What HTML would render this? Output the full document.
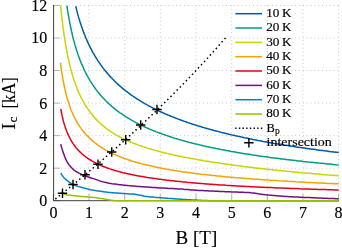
<!DOCTYPE html>
<html><head><meta charset="utf-8"><title>Ic vs B</title>
<style>
html,body{margin:0;padding:0;background:#fff;}
svg{display:block;}
text{font-family:"Liberation Serif",serif;fill:#000;stroke:#000;stroke-width:0.15px;}
.tk{font-size:16px;}
.lg{font-size:12.5px;}
.lb{font-size:19px;}
</style></head><body>
<svg width="342" height="249" viewBox="0 0 342 249">
<rect width="342" height="249" fill="#fff"/>
<g stroke="#9c9c9c" stroke-width="0.7" stroke-dasharray="0.75 3.09" fill="none"><line x1="89.0" y1="5.5" x2="89.0" y2="200.7"/><line x1="124.7" y1="5.5" x2="124.7" y2="200.7"/><line x1="160.3" y1="5.5" x2="160.3" y2="200.7"/><line x1="196.0" y1="5.5" x2="196.0" y2="200.7"/><line x1="231.7" y1="5.5" x2="231.7" y2="200.7"/><line x1="267.3" y1="5.5" x2="267.3" y2="200.7"/><line x1="302.9" y1="5.5" x2="302.9" y2="200.7"/><line x1="338.6" y1="5.5" x2="338.6" y2="200.7"/><line x1="53.4" y1="168.2" x2="338.6" y2="168.2"/><line x1="53.4" y1="135.6" x2="338.6" y2="135.6"/><line x1="53.4" y1="103.1" x2="338.6" y2="103.1"/><line x1="53.4" y1="70.5" x2="338.6" y2="70.5"/><line x1="53.4" y1="38.0" x2="338.6" y2="38.0"/><line x1="53.4" y1="5.5" x2="338.6" y2="5.5"/></g>
<g stroke="#808080" stroke-width="0.55" fill="none"><line x1="53.4" y1="200.7" x2="53.4" y2="193.9"/><line x1="89.0" y1="200.7" x2="89.0" y2="193.9"/><line x1="124.7" y1="200.7" x2="124.7" y2="193.9"/><line x1="160.3" y1="200.7" x2="160.3" y2="193.9"/><line x1="196.0" y1="200.7" x2="196.0" y2="193.9"/><line x1="231.7" y1="200.7" x2="231.7" y2="193.9"/><line x1="267.3" y1="200.7" x2="267.3" y2="193.9"/><line x1="302.9" y1="200.7" x2="302.9" y2="193.9"/><line x1="338.6" y1="200.7" x2="338.6" y2="193.9"/><line x1="53.4" y1="200.7" x2="60.2" y2="200.7"/><line x1="53.4" y1="168.2" x2="60.2" y2="168.2"/><line x1="53.4" y1="135.6" x2="60.2" y2="135.6"/><line x1="53.4" y1="103.1" x2="60.2" y2="103.1"/><line x1="53.4" y1="70.5" x2="60.2" y2="70.5"/><line x1="53.4" y1="38.0" x2="60.2" y2="38.0"/><line x1="53.4" y1="5.5" x2="60.2" y2="5.5"/></g>
<path d="M53.6,5.5 L53.6,200.7 L338.6,200.7" stroke="#000" stroke-width="0.75" fill="none" stroke-linecap="square"/>
<path d="M75.7,6.2 L75.9,7.0 L76.1,7.8 L76.3,8.6 L76.5,9.3 L76.7,10.1 L76.9,10.9 L77.1,11.6 L77.3,12.4 L77.5,13.1 L77.7,13.9 L77.9,14.6 L78.1,15.4 L78.3,16.1 L78.5,16.9 L78.7,17.6 L78.9,18.3 L79.2,19.1 L79.4,19.8 L79.6,20.5 L79.8,21.2 L80.1,22.0 L80.3,22.7 L80.5,23.4 L80.7,24.1 L81.0,24.8 L81.2,25.5 L81.5,26.2 L81.7,26.9 L81.9,27.6 L82.2,28.3 L82.4,29.0 L82.7,29.7 L82.9,30.4 L83.2,31.1 L83.4,31.7 L83.7,32.4 L83.9,33.1 L84.2,33.8 L84.5,34.4 L84.7,35.1 L85.0,35.8 L85.3,36.4 L85.5,37.1 L85.8,37.8 L86.1,38.4 L86.4,39.1 L86.7,39.7 L86.9,40.4 L87.2,41.0 L87.5,41.7 L87.8,42.3 L88.1,42.9 L88.4,43.6 L88.7,44.2 L89.0,44.9 L89.3,45.5 L89.6,46.1 L89.9,46.7 L90.2,47.4 L90.6,48.0 L90.9,48.6 L91.2,49.2 L91.5,49.8 L91.8,50.5 L92.2,51.1 L92.5,51.7 L92.8,52.3 L93.2,52.9 L93.5,53.5 L93.9,54.1 L94.2,54.7 L94.6,55.3 L94.9,55.9 L95.3,56.5 L95.6,57.1 L96.0,57.7 L96.3,58.3 L96.7,58.8 L97.1,59.4 L97.5,60.0 L97.8,60.6 L98.2,61.2 L98.6,61.7 L99.0,62.3 L99.4,62.9 L99.8,63.4 L100.2,64.0 L100.6,64.6 L101.0,65.1 L101.4,65.7 L101.8,66.3 L102.2,66.8 L102.6,67.4 L103.0,67.9 L103.5,68.5 L103.9,69.1 L104.3,69.6 L104.8,70.2 L105.2,70.7 L105.6,71.2 L106.1,71.8 L106.5,72.3 L107.0,72.9 L107.5,73.4 L107.9,73.9 L108.4,74.5 L108.9,75.0 L109.3,75.5 L109.8,76.1 L110.3,76.6 L110.8,77.1 L111.3,77.7 L111.8,78.2 L112.3,78.7 L112.8,79.2 L113.3,79.7 L113.8,80.3 L114.3,80.8 L114.8,81.3 L115.4,81.8 L115.9,82.3 L116.4,82.8 L117.0,83.3 L117.5,83.8 L118.1,84.3 L118.6,84.8 L119.2,85.3 L119.7,85.8 L120.3,86.3 L120.9,86.8 L121.4,87.3 L122.0,87.8 L122.6,88.3 L123.2,88.8 L123.8,89.3 L124.4,89.8 L125.0,90.3 L125.6,90.8 L126.2,91.2 L126.9,91.7 L127.5,92.2 L128.1,92.7 L128.8,93.2 L129.4,93.6 L130.1,94.1 L130.7,94.6 L131.4,95.1 L132.1,95.5 L132.7,96.0 L133.4,96.5 L134.1,96.9 L134.8,97.4 L135.5,97.9 L136.2,98.3 L136.9,98.8 L137.6,99.3 L138.3,99.7 L139.1,100.2 L139.8,100.6 L140.5,101.1 L141.3,101.5 L142.0,102.0 L142.8,102.4 L143.6,102.9 L144.3,103.3 L145.1,103.8 L145.9,104.2 L146.7,104.7 L147.5,105.1 L148.3,105.6 L149.1,106.0 L149.9,106.4 L150.8,106.9 L151.6,107.3 L152.4,107.7 L153.3,108.2 L154.1,108.6 L155.0,109.0 L155.9,109.5 L156.7,109.9 L157.6,110.3 L158.5,110.8 L159.4,111.2 L160.3,111.6 L161.2,112.0 L162.2,112.5 L163.1,112.9 L164.0,113.3 L165.0,113.7 L165.9,114.1 L166.9,114.5 L167.9,115.0 L168.9,115.4 L169.9,115.8 L170.8,116.2 L171.9,116.6 L172.9,117.0 L173.9,117.4 L174.9,117.8 L176.0,118.2 L177.0,118.6 L178.1,119.0 L179.1,119.4 L180.2,119.8 L181.3,120.2 L182.4,120.6 L183.5,121.0 L184.6,121.4 L185.8,121.8 L186.9,122.2 L188.0,122.6 L189.2,123.0 L190.3,123.4 L191.5,123.8 L192.7,124.2 L193.9,124.5 L195.1,124.9 L196.3,125.3 L197.5,125.7 L198.8,126.1 L200.0,126.4 L201.3,126.8 L202.5,127.2 L203.8,127.6 L205.1,128.0 L206.4,128.3 L207.7,128.7 L209.0,129.1 L210.4,129.4 L211.7,129.8 L213.1,130.2 L214.4,130.6 L215.8,130.9 L217.2,131.3 L218.6,131.6 L220.0,132.0 L221.5,132.4 L222.9,132.7 L224.4,133.1 L225.8,133.4 L227.3,133.8 L228.8,134.2 L230.3,134.5 L231.8,134.9 L233.3,135.2 L234.9,135.6 L236.4,135.9 L238.0,136.3 L239.6,136.6 L241.2,137.0 L242.8,137.3 L244.4,137.7 L246.1,138.0 L247.7,138.3 L249.4,138.7 L251.1,139.0 L252.8,139.4 L254.5,139.7 L256.2,140.0 L257.9,140.4 L259.7,140.7 L261.4,141.0 L263.2,141.4 L265.0,141.7 L266.8,142.0 L268.7,142.4 L270.5,142.7 L272.4,143.0 L274.2,143.4 L276.1,143.7 L278.1,144.0 L280.0,144.3 L281.9,144.6 L283.9,145.0 L285.9,145.3 L287.8,145.6 L289.9,145.9 L291.9,146.2 L293.9,146.6 L296.0,146.9 L298.1,147.2 L300.2,147.5 L302.3,147.8 L304.4,148.1 L306.6,148.4 L308.7,148.7 L310.9,149.0 L313.1,149.3 L315.4,149.6 L317.6,149.9 L319.9,150.2 L322.2,150.5 L324.5,150.8 L326.8,151.1 L329.1,151.4 L331.5,151.7 L333.9,152.0 L336.3,152.3 L338.7,152.6" stroke="#005AA9" stroke-width="1.5" fill="none" stroke-linejoin="round"/>
<path d="M66.9,5.7 L67.1,6.6 L67.2,7.6 L67.4,8.5 L67.5,9.5 L67.6,10.4 L67.8,11.3 L67.9,12.2 L68.1,13.2 L68.2,14.1 L68.4,15.0 L68.5,15.9 L68.7,16.8 L68.9,17.7 L69.0,18.6 L69.2,19.5 L69.3,20.3 L69.5,21.2 L69.7,22.1 L69.8,23.0 L70.0,23.8 L70.2,24.7 L70.3,25.6 L70.5,26.4 L70.7,27.3 L70.9,28.1 L71.0,29.0 L71.2,29.8 L71.4,30.6 L71.6,31.5 L71.8,32.3 L72.0,33.1 L72.2,33.9 L72.3,34.8 L72.5,35.6 L72.7,36.4 L72.9,37.2 L73.1,38.0 L73.3,38.8 L73.5,39.6 L73.7,40.4 L74.0,41.2 L74.2,41.9 L74.4,42.7 L74.6,43.5 L74.8,44.3 L75.0,45.0 L75.3,45.8 L75.5,46.6 L75.7,47.3 L75.9,48.1 L76.2,48.8 L76.4,49.6 L76.6,50.3 L76.9,51.1 L77.1,51.8 L77.4,52.6 L77.6,53.3 L77.9,54.0 L78.1,54.8 L78.4,55.5 L78.6,56.2 L78.9,56.9 L79.1,57.6 L79.4,58.4 L79.7,59.1 L79.9,59.8 L80.2,60.5 L80.5,61.2 L80.8,61.9 L81.0,62.6 L81.3,63.3 L81.6,63.9 L81.9,64.6 L82.2,65.3 L82.5,66.0 L82.8,66.7 L83.1,67.3 L83.4,68.0 L83.7,68.7 L84.0,69.4 L84.3,70.0 L84.6,70.7 L85.0,71.3 L85.3,72.0 L85.6,72.6 L86.0,73.3 L86.3,73.9 L86.6,74.6 L87.0,75.2 L87.3,75.9 L87.7,76.5 L88.0,77.1 L88.4,77.8 L88.7,78.4 L89.1,79.0 L89.5,79.6 L89.8,80.3 L90.2,80.9 L90.6,81.5 L91.0,82.1 L91.3,82.7 L91.7,83.3 L92.1,83.9 L92.5,84.5 L92.9,85.1 L93.3,85.7 L93.7,86.3 L94.2,86.9 L94.6,87.5 L95.0,88.1 L95.4,88.7 L95.9,89.3 L96.3,89.9 L96.7,90.4 L97.2,91.0 L97.6,91.6 L98.1,92.2 L98.6,92.7 L99.0,93.3 L99.5,93.9 L100.0,94.4 L100.4,95.0 L100.9,95.5 L101.4,96.1 L101.9,96.6 L102.4,97.2 L102.9,97.7 L103.4,98.3 L103.9,98.8 L104.4,99.4 L105.0,99.9 L105.5,100.5 L106.0,101.0 L106.6,101.5 L107.1,102.1 L107.7,102.6 L108.2,103.1 L108.8,103.6 L109.4,104.2 L109.9,104.7 L110.5,105.2 L111.1,105.7 L111.7,106.2 L112.3,106.8 L112.9,107.3 L113.5,107.8 L114.1,108.3 L114.8,108.8 L115.4,109.3 L116.0,109.8 L116.7,110.3 L117.3,110.8 L118.0,111.3 L118.7,111.8 L119.3,112.3 L120.0,112.8 L120.7,113.2 L121.4,113.7 L122.1,114.2 L122.8,114.7 L123.5,115.2 L124.2,115.7 L125.0,116.1 L125.7,116.6 L126.4,117.1 L127.2,117.5 L128.0,118.0 L128.7,118.5 L129.5,118.9 L130.3,119.4 L131.1,119.9 L131.9,120.3 L132.7,120.8 L133.5,121.2 L134.3,121.7 L135.1,122.1 L136.0,122.6 L136.8,123.0 L137.7,123.5 L138.6,123.9 L139.4,124.4 L140.3,124.8 L141.2,125.2 L142.1,125.7 L143.0,126.1 L144.0,126.5 L144.9,127.0 L145.8,127.4 L146.8,127.8 L147.7,128.3 L148.7,128.7 L149.7,129.1 L150.7,129.5 L151.7,129.9 L152.7,130.4 L153.7,130.8 L154.8,131.2 L155.8,131.6 L156.9,132.0 L157.9,132.4 L159.0,132.8 L160.1,133.2 L161.2,133.6 L162.3,134.0 L163.4,134.4 L164.6,134.8 L165.7,135.2 L166.9,135.6 L168.0,136.0 L169.2,136.4 L170.4,136.8 L171.6,137.2 L172.8,137.6 L174.0,138.0 L175.3,138.4 L176.5,138.7 L177.8,139.1 L179.1,139.5 L180.4,139.9 L181.7,140.3 L183.0,140.6 L184.3,141.0 L185.7,141.4 L187.1,141.7 L188.4,142.1 L189.8,142.5 L191.2,142.8 L192.6,143.2 L194.1,143.6 L195.5,143.9 L197.0,144.3 L198.5,144.6 L200.0,145.0 L201.5,145.3 L203.0,145.7 L204.5,146.1 L206.1,146.4 L207.7,146.7 L209.3,147.1 L210.9,147.4 L212.5,147.8 L214.1,148.1 L215.8,148.5 L217.5,148.8 L219.1,149.1 L220.8,149.5 L222.6,149.8 L224.3,150.1 L226.1,150.5 L227.9,150.8 L229.6,151.1 L231.5,151.5 L233.3,151.8 L235.2,152.1 L237.0,152.4 L238.9,152.7 L240.8,153.1 L242.8,153.4 L244.7,153.7 L246.7,154.0 L248.7,154.3 L250.7,154.6 L252.7,155.0 L254.8,155.3 L256.8,155.6 L258.9,155.9 L261.0,156.2 L263.2,156.5 L265.3,156.8 L267.5,157.1 L269.7,157.4 L272.0,157.7 L274.2,158.0 L276.5,158.3 L278.8,158.6 L281.1,158.9 L283.5,159.1 L285.8,159.4 L288.2,159.7 L290.6,160.0 L293.1,160.3 L295.6,160.6 L298.0,160.9 L300.6,161.1 L303.1,161.4 L305.7,161.7 L308.3,162.0 L310.9,162.2 L313.6,162.5 L316.2,162.8 L318.9,163.1 L321.7,163.3 L324.4,163.6 L327.2,163.9 L330.1,164.1 L332.9,164.4 L335.8,164.7 L338.7,164.9" stroke="#009D81" stroke-width="1.5" fill="none" stroke-linejoin="round"/>
<path d="M60.6,5.8 L60.7,6.7 L60.8,7.6 L60.9,8.5 L61.0,9.4 L61.1,10.3 L61.1,11.2 L61.2,12.1 L61.3,13.0 L61.4,13.9 L61.5,14.8 L61.6,15.7 L61.7,16.6 L61.8,17.5 L61.9,18.4 L62.0,19.3 L62.2,20.2 L62.3,21.1 L62.4,22.0 L62.5,22.9 L62.6,23.8 L62.7,24.7 L62.8,25.6 L62.9,26.5 L63.0,27.4 L63.2,28.3 L63.3,29.2 L63.4,30.1 L63.5,31.0 L63.7,31.9 L63.8,32.8 L63.9,33.7 L64.0,34.6 L64.2,35.5 L64.3,36.4 L64.4,37.3 L64.6,38.2 L64.7,39.0 L64.9,39.9 L65.0,40.8 L65.1,41.7 L65.3,42.6 L65.4,43.5 L65.6,44.4 L65.7,45.2 L65.9,46.1 L66.0,47.0 L66.2,47.9 L66.3,48.7 L66.5,49.6 L66.7,50.5 L66.8,51.3 L67.0,52.2 L67.2,53.1 L67.3,53.9 L67.5,54.8 L67.7,55.6 L67.9,56.5 L68.0,57.3 L68.2,58.2 L68.4,59.0 L68.6,59.9 L68.8,60.7 L69.0,61.5 L69.2,62.4 L69.3,63.2 L69.5,64.0 L69.7,64.9 L69.9,65.7 L70.1,66.5 L70.4,67.3 L70.6,68.1 L70.8,69.0 L71.0,69.8 L71.2,70.6 L71.4,71.4 L71.7,72.2 L71.9,73.0 L72.1,73.8 L72.3,74.6 L72.6,75.3 L72.8,76.1 L73.0,76.9 L73.3,77.7 L73.5,78.5 L73.8,79.2 L74.0,80.0 L74.3,80.8 L74.6,81.5 L74.8,82.3 L75.1,83.1 L75.3,83.8 L75.6,84.6 L75.9,85.3 L76.2,86.0 L76.5,86.8 L76.7,87.5 L77.0,88.3 L77.3,89.0 L77.6,89.7 L77.9,90.4 L78.2,91.1 L78.5,91.9 L78.8,92.6 L79.2,93.3 L79.5,94.0 L79.8,94.7 L80.1,95.4 L80.5,96.1 L80.8,96.8 L81.1,97.5 L81.5,98.1 L81.8,98.8 L82.2,99.5 L82.5,100.2 L82.9,100.8 L83.3,101.5 L83.6,102.2 L84.0,102.8 L84.4,103.5 L84.8,104.1 L85.1,104.8 L85.5,105.4 L85.9,106.0 L86.3,106.7 L86.7,107.3 L87.2,107.9 L87.6,108.6 L88.0,109.2 L88.4,109.8 L88.9,110.4 L89.3,111.0 L89.8,111.6 L90.2,112.2 L90.7,112.8 L91.1,113.4 L91.6,114.0 L92.1,114.6 L92.5,115.2 L93.0,115.8 L93.5,116.3 L94.0,116.9 L94.5,117.5 L95.0,118.1 L95.5,118.6 L96.1,119.2 L96.6,119.7 L97.1,120.3 L97.7,120.8 L98.2,121.4 L98.8,121.9 L99.3,122.5 L99.9,123.0 L100.5,123.5 L101.1,124.0 L101.7,124.6 L102.3,125.1 L102.9,125.6 L103.5,126.1 L104.1,126.6 L104.7,127.1 L105.4,127.6 L106.0,128.1 L106.7,128.6 L107.3,129.1 L108.0,129.6 L108.7,130.1 L109.4,130.6 L110.1,131.1 L110.8,131.5 L111.5,132.0 L112.2,132.5 L112.9,132.9 L113.7,133.4 L114.4,133.9 L115.2,134.3 L115.9,134.8 L116.7,135.2 L117.5,135.7 L118.3,136.1 L119.1,136.5 L119.9,137.0 L120.7,137.4 L121.6,137.8 L122.4,138.3 L123.3,138.7 L124.1,139.1 L125.0,139.5 L125.9,139.9 L126.8,140.3 L127.7,140.8 L128.6,141.2 L129.6,141.6 L130.5,142.0 L131.5,142.4 L132.4,142.8 L133.4,143.1 L134.4,143.5 L135.4,143.9 L136.4,144.3 L137.5,144.7 L138.5,145.1 L139.6,145.4 L140.6,145.8 L141.7,146.2 L142.8,146.6 L143.9,146.9 L145.0,147.3 L146.2,147.6 L147.3,148.0 L148.5,148.4 L149.7,148.7 L150.9,149.1 L152.1,149.4 L153.3,149.8 L154.6,150.1 L155.8,150.5 L157.1,150.8 L158.4,151.2 L159.7,151.5 L161.0,151.9 L162.3,152.2 L163.7,152.6 L165.1,152.9 L166.4,153.2 L167.8,153.6 L169.3,153.9 L170.7,154.2 L172.2,154.6 L173.6,154.9 L175.1,155.2 L176.6,155.6 L178.2,155.9 L179.7,156.2 L181.3,156.5 L182.9,156.9 L184.5,157.2 L186.1,157.5 L187.8,157.8 L189.4,158.1 L191.1,158.5 L192.8,158.8 L194.6,159.1 L196.3,159.4 L198.1,159.7 L199.9,160.0 L201.7,160.3 L203.5,160.7 L205.4,161.0 L207.3,161.3 L209.2,161.6 L211.1,161.9 L213.1,162.2 L215.1,162.5 L217.1,162.8 L219.1,163.1 L221.2,163.4 L223.3,163.7 L225.4,164.0 L227.5,164.3 L229.7,164.6 L231.9,164.9 L234.1,165.2 L236.3,165.5 L238.6,165.8 L240.9,166.1 L243.2,166.4 L245.6,166.7 L248.0,167.0 L250.4,167.3 L252.8,167.6 L255.3,167.9 L257.8,168.2 L260.4,168.5 L262.9,168.8 L265.5,169.1 L268.2,169.4 L270.8,169.6 L273.5,169.9 L276.3,170.2 L279.0,170.5 L281.8,170.8 L284.7,171.1 L287.6,171.4 L290.5,171.6 L293.4,171.9 L296.4,172.2 L299.4,172.5 L302.5,172.8 L305.6,173.0 L308.7,173.3 L311.9,173.6 L315.1,173.9 L318.3,174.1 L321.6,174.4 L325.0,174.7 L328.3,175.0 L331.7,175.2 L335.2,175.5 L338.7,175.8" stroke="#C9D400" stroke-width="1.5" fill="none" stroke-linejoin="round"/>
<path d="M60.5,62.9 L60.6,63.6 L60.7,64.3 L60.8,65.0 L60.9,65.7 L60.9,66.4 L61.0,67.1 L61.1,67.8 L61.2,68.5 L61.3,69.2 L61.4,69.8 L61.5,70.5 L61.6,71.2 L61.7,71.9 L61.8,72.6 L61.9,73.2 L62.0,73.9 L62.1,74.6 L62.3,75.2 L62.4,75.9 L62.5,76.6 L62.6,77.2 L62.7,77.9 L62.8,78.6 L62.9,79.2 L63.0,79.9 L63.2,80.5 L63.3,81.2 L63.4,81.8 L63.5,82.5 L63.7,83.1 L63.8,83.8 L63.9,84.4 L64.0,85.1 L64.2,85.7 L64.3,86.3 L64.4,87.0 L64.6,87.6 L64.7,88.2 L64.9,88.9 L65.0,89.5 L65.1,90.1 L65.3,90.8 L65.4,91.4 L65.6,92.0 L65.7,92.6 L65.9,93.2 L66.0,93.8 L66.2,94.4 L66.4,95.1 L66.5,95.7 L66.7,96.3 L66.8,96.9 L67.0,97.5 L67.2,98.1 L67.3,98.7 L67.5,99.3 L67.7,99.9 L67.9,100.4 L68.0,101.0 L68.2,101.6 L68.4,102.2 L68.6,102.8 L68.8,103.4 L69.0,103.9 L69.2,104.5 L69.4,105.1 L69.6,105.7 L69.8,106.2 L70.0,106.8 L70.2,107.3 L70.4,107.9 L70.6,108.5 L70.8,109.0 L71.0,109.6 L71.2,110.1 L71.5,110.7 L71.7,111.2 L71.9,111.8 L72.1,112.3 L72.4,112.9 L72.6,113.4 L72.8,113.9 L73.1,114.5 L73.3,115.0 L73.6,115.5 L73.8,116.1 L74.1,116.6 L74.3,117.1 L74.6,117.7 L74.9,118.2 L75.1,118.7 L75.4,119.2 L75.7,119.7 L76.0,120.2 L76.2,120.7 L76.5,121.2 L76.8,121.8 L77.1,122.3 L77.4,122.8 L77.7,123.3 L78.0,123.8 L78.3,124.2 L78.6,124.7 L78.9,125.2 L79.2,125.7 L79.6,126.2 L79.9,126.7 L80.2,127.2 L80.5,127.6 L80.9,128.1 L81.2,128.6 L81.6,129.1 L81.9,129.5 L82.3,130.0 L82.6,130.5 L83.0,130.9 L83.4,131.4 L83.7,131.9 L84.1,132.3 L84.5,132.8 L84.9,133.2 L85.3,133.7 L85.7,134.1 L86.1,134.6 L86.5,135.0 L86.9,135.4 L87.3,135.9 L87.7,136.3 L88.2,136.8 L88.6,137.2 L89.0,137.6 L89.5,138.1 L89.9,138.5 L90.4,138.9 L90.8,139.3 L91.3,139.7 L91.8,140.2 L92.2,140.6 L92.7,141.0 L93.2,141.4 L93.7,141.8 L94.2,142.2 L94.7,142.6 L95.2,143.0 L95.8,143.4 L96.3,143.8 L96.8,144.2 L97.4,144.6 L97.9,145.0 L98.5,145.4 L99.0,145.8 L99.6,146.2 L100.2,146.6 L100.7,147.0 L101.3,147.3 L101.9,147.7 L102.5,148.1 L103.1,148.5 L103.8,148.8 L104.4,149.2 L105.0,149.6 L105.7,149.9 L106.3,150.3 L107.0,150.7 L107.6,151.0 L108.3,151.4 L109.0,151.8 L109.7,152.1 L110.4,152.5 L111.1,152.8 L111.8,153.2 L112.6,153.5 L113.3,153.9 L114.0,154.2 L114.8,154.5 L115.6,154.9 L116.3,155.2 L117.1,155.5 L117.9,155.9 L118.7,156.2 L119.5,156.5 L120.4,156.9 L121.2,157.2 L122.0,157.5 L122.9,157.8 L123.8,158.2 L124.6,158.5 L125.5,158.8 L126.4,159.1 L127.3,159.4 L128.2,159.7 L129.2,160.0 L130.1,160.3 L131.1,160.7 L132.0,161.0 L133.0,161.3 L134.0,161.6 L135.0,161.9 L136.0,162.2 L137.1,162.4 L138.1,162.7 L139.2,163.0 L140.2,163.3 L141.3,163.6 L142.4,163.9 L143.5,164.2 L144.6,164.5 L145.8,164.7 L146.9,165.0 L148.1,165.3 L149.3,165.6 L150.5,165.8 L151.7,166.1 L152.9,166.4 L154.2,166.6 L155.4,166.9 L156.7,167.2 L158.0,167.4 L159.3,167.7 L160.6,168.0 L161.9,168.2 L163.3,168.5 L164.6,168.7 L166.0,169.0 L167.4,169.2 L168.9,169.5 L170.3,169.7 L171.8,170.0 L173.2,170.2 L174.7,170.5 L176.2,170.7 L177.8,171.0 L179.3,171.2 L180.9,171.4 L182.5,171.7 L184.1,171.9 L185.7,172.1 L187.4,172.4 L189.0,172.6 L190.7,172.8 L192.4,173.0 L194.2,173.3 L195.9,173.5 L197.7,173.7 L199.5,173.9 L201.3,174.2 L203.2,174.4 L205.0,174.6 L206.9,174.8 L208.8,175.0 L210.8,175.2 L212.7,175.4 L214.7,175.6 L216.7,175.9 L218.8,176.1 L220.8,176.3 L222.9,176.5 L225.0,176.7 L227.2,176.9 L229.4,177.1 L231.5,177.3 L233.8,177.5 L236.0,177.7 L238.3,177.8 L240.6,178.0 L242.9,178.2 L245.3,178.4 L247.7,178.6 L250.1,178.8 L252.6,179.0 L255.0,179.2 L257.6,179.3 L260.1,179.5 L262.7,179.7 L265.3,179.9 L267.9,180.1 L270.6,180.2 L273.3,180.4 L276.1,180.6 L278.8,180.8 L281.7,180.9 L284.5,181.1 L287.4,181.3 L290.3,181.4 L293.3,181.6 L296.2,181.8 L299.3,181.9 L302.3,182.1 L305.4,182.3 L308.6,182.4 L311.8,182.6 L315.0,182.7 L318.3,182.9 L321.6,183.0 L324.9,183.2 L328.3,183.4 L331.7,183.5 L335.2,183.7 L338.7,183.8" stroke="#F5A300" stroke-width="1.5" fill="none" stroke-linejoin="round"/>
<path d="M60.8,109.0 L60.9,109.5 L61.0,110.0 L61.1,110.5 L61.2,111.0 L61.3,111.5 L61.4,112.0 L61.5,112.5 L61.6,113.0 L61.7,113.5 L61.8,114.0 L61.9,114.5 L62.0,114.9 L62.1,115.4 L62.2,115.9 L62.3,116.4 L62.4,116.9 L62.5,117.3 L62.6,117.8 L62.7,118.3 L62.8,118.7 L62.9,119.2 L63.1,119.7 L63.2,120.1 L63.3,120.6 L63.4,121.1 L63.5,121.5 L63.7,122.0 L63.8,122.4 L63.9,122.9 L64.0,123.3 L64.2,123.8 L64.3,124.2 L64.4,124.7 L64.6,125.1 L64.7,125.5 L64.8,126.0 L65.0,126.4 L65.1,126.8 L65.3,127.3 L65.4,127.7 L65.6,128.1 L65.7,128.6 L65.9,129.0 L66.0,129.4 L66.2,129.8 L66.3,130.2 L66.5,130.7 L66.6,131.1 L66.8,131.5 L67.0,131.9 L67.1,132.3 L67.3,132.7 L67.5,133.1 L67.7,133.5 L67.8,133.9 L68.0,134.3 L68.2,134.7 L68.4,135.1 L68.5,135.5 L68.7,135.9 L68.9,136.3 L69.1,136.7 L69.3,137.1 L69.5,137.5 L69.7,137.9 L69.9,138.2 L70.1,138.6 L70.3,139.0 L70.5,139.4 L70.7,139.8 L70.9,140.1 L71.1,140.5 L71.4,140.9 L71.6,141.3 L71.8,141.6 L72.0,142.0 L72.3,142.3 L72.5,142.7 L72.7,143.1 L73.0,143.4 L73.2,143.8 L73.4,144.1 L73.7,144.5 L73.9,144.9 L74.2,145.2 L74.4,145.6 L74.7,145.9 L75.0,146.3 L75.2,146.6 L75.5,146.9 L75.8,147.3 L76.0,147.6 L76.3,148.0 L76.6,148.3 L76.9,148.6 L77.2,149.0 L77.5,149.3 L77.8,149.6 L78.1,150.0 L78.4,150.3 L78.7,150.6 L79.0,150.9 L79.3,151.3 L79.6,151.6 L79.9,151.9 L80.3,152.2 L80.6,152.5 L80.9,152.9 L81.3,153.2 L81.6,153.5 L82.0,153.8 L82.3,154.1 L82.7,154.4 L83.0,154.7 L83.4,155.0 L83.8,155.3 L84.1,155.6 L84.5,155.9 L84.9,156.2 L85.3,156.5 L85.7,156.8 L86.1,157.1 L86.5,157.4 L86.9,157.7 L87.3,158.0 L87.7,158.3 L88.1,158.6 L88.6,158.8 L89.0,159.1 L89.4,159.4 L89.9,159.7 L90.3,160.0 L90.8,160.2 L91.2,160.5 L91.7,160.8 L92.2,161.1 L92.6,161.3 L93.1,161.6 L93.6,161.9 L94.1,162.2 L94.6,162.4 L95.1,162.7 L95.6,163.0 L96.2,163.2 L96.7,163.5 L97.2,163.7 L97.8,164.0 L98.3,164.3 L98.8,164.5 L99.4,164.8 L100.0,165.0 L100.5,165.3 L101.1,165.5 L101.7,165.8 L102.3,166.0 L102.9,166.3 L103.5,166.5 L104.1,166.8 L104.8,167.0 L105.4,167.2 L106.0,167.5 L106.7,167.7 L107.3,168.0 L108.0,168.2 L108.7,168.4 L109.4,168.7 L110.0,168.9 L110.7,169.1 L111.4,169.4 L112.2,169.6 L112.9,169.8 L113.6,170.0 L114.4,170.3 L115.1,170.5 L115.9,170.7 L116.6,170.9 L117.4,171.2 L118.2,171.4 L119.0,171.6 L119.8,171.8 L120.6,172.0 L121.5,172.2 L122.3,172.4 L123.1,172.7 L124.0,172.9 L124.9,173.1 L125.8,173.3 L126.6,173.5 L127.6,173.7 L128.5,173.9 L129.4,174.1 L130.3,174.3 L131.3,174.5 L132.2,174.7 L133.2,174.9 L134.2,175.1 L135.2,175.3 L136.2,175.5 L137.2,175.7 L138.2,175.9 L139.3,176.1 L140.3,176.3 L141.4,176.5 L142.5,176.6 L143.6,176.8 L144.7,177.0 L145.8,177.2 L147.0,177.4 L148.1,177.6 L149.3,177.7 L150.5,177.9 L151.7,178.1 L152.9,178.3 L154.1,178.5 L155.3,178.6 L156.6,178.8 L157.9,179.0 L159.2,179.2 L160.5,179.3 L161.8,179.5 L163.1,179.7 L164.5,179.8 L165.8,180.0 L167.2,180.2 L168.6,180.3 L170.0,180.5 L171.5,180.7 L172.9,180.8 L174.4,181.0 L175.9,181.2 L177.4,181.3 L178.9,181.5 L180.5,181.6 L182.1,181.8 L183.6,181.9 L185.2,182.1 L186.9,182.3 L188.5,182.4 L190.2,182.6 L191.9,182.7 L193.6,182.9 L195.3,183.0 L197.1,183.2 L198.8,183.3 L200.6,183.4 L202.4,183.6 L204.3,183.7 L206.1,183.9 L208.0,184.0 L209.9,184.2 L211.8,184.3 L213.8,184.4 L215.8,184.6 L217.8,184.7 L219.8,184.9 L221.9,185.0 L223.9,185.1 L226.0,185.3 L228.2,185.4 L230.3,185.5 L232.5,185.7 L234.7,185.8 L236.9,185.9 L239.2,186.0 L241.5,186.2 L243.8,186.3 L246.2,186.4 L248.5,186.5 L250.9,186.7 L253.4,186.8 L255.8,186.9 L258.3,187.0 L260.9,187.2 L263.4,187.3 L266.0,187.4 L268.6,187.5 L271.3,187.6 L274.0,187.7 L276.7,187.9 L279.4,188.0 L282.2,188.1 L285.0,188.2 L287.9,188.3 L290.8,188.4 L293.7,188.5 L296.7,188.6 L299.7,188.8 L302.7,188.9 L305.8,189.0 L308.9,189.1 L312.1,189.2 L315.2,189.3 L318.5,189.4 L321.7,189.5 L325.1,189.6 L328.4,189.7 L331.8,189.8 L335.2,189.9 L338.7,190.0" stroke="#E6001A" stroke-width="1.5" fill="none" stroke-linejoin="round"/>
<path d="M60.7,144.3 L61.1,145.7 L61.5,147.2 L62.0,148.6 L62.4,150.0 L62.9,151.5 L63.4,152.9 L63.9,154.3 L64.4,155.7 L64.9,157.1 L65.5,158.5 L66.1,159.9 L66.7,161.2 L67.4,162.5 L68.3,163.7 L69.1,164.9 L70.1,166.1 L71.1,167.2 L72.1,168.3 L73.2,169.4 L74.3,170.3 L75.5,171.2 L76.8,172.0 L78.1,172.7 L79.4,173.4 L80.8,174.0 L82.2,174.6 L83.6,175.1 L85.0,175.7 L86.4,176.2 L87.8,176.7 L89.2,177.2 L90.6,177.7 L92.0,178.2 L93.5,178.6 L94.9,179.1 L96.3,179.6 L97.7,180.1 L99.1,180.6 L100.5,181.1 L102.0,181.5 L103.4,181.9 L104.9,182.2 L106.3,182.6 L107.8,182.9 L109.2,183.2 L110.7,183.4 L112.2,183.7 L113.6,183.9 L115.1,184.1 L116.6,184.3 L118.1,184.5 L119.6,184.7 L121.1,184.8 L122.6,185.0 L124.0,185.2 L125.5,185.3 L127.0,185.4 L128.5,185.6 L130.0,185.7 L131.5,185.9 L133.0,186.0 L134.5,186.1 L135.9,186.2 L137.4,186.4 L138.9,186.5 L140.4,186.6 L141.9,186.7 L143.4,186.8 L144.9,186.9 L146.4,187.0 L147.9,187.1 L149.4,187.2 L150.8,187.3 L152.3,187.4 L153.8,187.5 L155.3,187.6 L156.8,187.7 L158.3,187.8 L159.8,187.9 L161.3,188.0 L162.8,188.1 L164.3,188.1 L165.8,188.2 L167.3,188.3 L168.7,188.4 L170.2,188.5 L171.7,188.5 L173.2,188.6 L174.7,188.7 L176.2,188.8 L177.7,188.9 L179.2,188.9 L180.7,189.0 L182.2,189.1 L183.7,189.3 L185.2,189.4 L186.6,189.5 L188.1,189.6 L189.6,189.7 L191.1,189.9 L192.6,190.0 L194.1,190.1 L195.6,190.2 L197.1,190.3 L198.6,190.4 L200.1,190.4 L201.5,190.5 L203.0,190.6 L204.5,190.7 L206.0,190.8 L207.5,190.8 L209.0,190.9 L210.5,191.0 L212.0,191.1 L213.5,191.1 L215.0,191.2 L216.5,191.3 L218.0,191.3 L219.5,191.4 L220.9,191.5 L222.4,191.5 L223.9,191.6 L225.4,191.7 L226.9,191.7 L228.4,191.8 L229.9,191.8 L231.4,191.9 L232.9,192.0 L234.4,192.0 L235.9,192.1 L237.4,192.1 L238.9,192.2 L240.4,192.2 L241.9,192.3 L243.4,192.3 L244.8,192.4 L246.3,192.4 L247.8,192.5 L249.3,192.6 L250.8,192.8 L252.3,192.9 L253.8,193.1 L255.2,193.3 L256.7,193.5 L258.2,193.8 L259.7,194.0 L261.2,194.2 L262.6,194.4 L264.1,194.6 L265.6,194.8 L267.1,194.9 L268.6,195.1 L270.1,195.2 L271.6,195.3 L273.0,195.5 L274.5,195.6 L276.0,195.7 L277.5,195.8 L279.0,196.0 L280.5,196.1 L282.0,196.2 L283.5,196.3 L285.0,196.4 L286.5,196.5 L287.9,196.6 L289.4,196.7 L290.9,196.8 L292.4,196.8 L293.9,196.9 L295.4,197.0 L296.9,197.1 L298.4,197.1 L299.9,197.2 L301.4,197.2 L302.9,197.3 L304.4,197.4 L305.9,197.5 L307.3,197.5 L308.8,197.6 L310.3,197.6 L311.8,197.7 L313.3,197.8 L314.8,197.8 L316.3,197.9 L317.8,198.0 L319.3,198.0 L320.8,198.1 L322.3,198.2 L323.8,198.2 L325.3,198.3 L326.8,198.3 L328.2,198.4 L329.7,198.5 L331.2,198.5 L332.7,198.6 L334.2,198.6 L335.7,198.7 L337.2,198.7 L338.7,198.8" stroke="#721085" stroke-width="1.5" fill="none" stroke-linejoin="round"/>
<path d="M60.7,173.0 L61.5,174.3 L62.3,175.5 L63.1,176.6 L64.0,177.7 L65.0,178.7 L66.0,179.7 L67.1,180.6 L68.3,181.4 L69.5,182.3 L70.7,183.0 L71.9,183.8 L73.2,184.5 L74.4,185.1 L75.8,185.6 L77.1,186.1 L78.4,186.5 L79.8,186.9 L81.2,187.3 L82.6,187.7 L84.0,188.1 L85.4,188.4 L86.7,188.8 L88.1,189.1 L89.5,189.4 L90.9,189.7 L92.3,189.9 L93.7,190.2 L95.1,190.4 L96.6,190.7 L98.0,190.9 L99.4,191.1 L100.8,191.3 L102.2,191.5 L103.6,191.7 L105.0,191.9 L106.4,192.1 L107.9,192.3 L109.3,192.4 L110.7,192.5 L112.1,192.7 L113.5,192.8 L115.0,192.9 L116.4,193.0 L117.8,193.1 L119.2,193.2 L120.7,193.3 L122.1,193.4 L123.5,193.5 L124.9,193.6 L126.4,193.7 L127.8,193.8 L129.2,193.9 L130.6,193.9 L132.1,194.0 L133.5,194.1 L134.9,194.3 L136.3,194.5 L137.7,194.8 L139.1,195.1 L140.5,195.3 L141.9,195.6 L143.3,195.9 L144.7,196.2 L146.1,196.4 L147.6,196.6 L149.0,196.7 L150.4,196.9 L151.8,197.0 L153.2,197.1 L154.7,197.3 L156.1,197.4 L157.5,197.5 L158.9,197.6 L160.4,197.7 L161.8,197.8 L163.2,198.0 L164.6,198.1 L166.0,198.2 L167.5,198.3 L168.9,198.4 L170.3,198.5 L171.7,198.6 L173.2,198.7 L174.6,198.8 L176.0,198.9 L177.4,199.0 L178.9,199.1 L180.3,199.2 L181.7,199.3 L183.1,199.4 L184.6,199.5 L186.0,199.6 L187.4,199.7 L188.8,199.7 L190.3,199.8 L191.7,199.9 L193.1,200.0 L194.5,200.0 L196.0,200.1 L197.4,200.2 L198.8,200.2 L200.2,200.3 L201.7,200.4 L203.1,200.4 L204.5,200.5 L205.9,200.6 L207.4,200.6 L208.8,200.7 L210.2,200.7 L211.7,200.7 L213.1,200.7 L214.5,200.7 L215.9,200.7 L217.4,200.7 L218.8,200.7 L220.2,200.7 L221.6,200.7 L223.1,200.7 L224.5,200.7 L225.9,200.7 L227.3,200.7 L228.8,200.7 L230.2,200.7 L231.6,200.7 L233.1,200.7 L234.5,200.7 L235.9,200.7 L237.3,200.7 L238.8,200.7 L240.2,200.7 L241.6,200.7 L243.0,200.7 L244.5,200.7 L245.9,200.7 L247.3,200.7 L248.8,200.7 L250.2,200.7 L251.6,200.7 L253.0,200.7 L254.5,200.7 L255.9,200.7 L257.3,200.7 L258.7,200.7 L260.2,200.7 L261.6,200.7 L263.0,200.7 L264.5,200.7 L265.9,200.7 L267.3,200.7 L268.7,200.7 L270.2,200.7 L271.6,200.7 L273.0,200.7 L274.4,200.7 L275.9,200.7 L277.3,200.7 L278.7,200.7 L280.2,200.7 L281.6,200.7 L283.0,200.7 L284.4,200.7 L285.9,200.7 L287.3,200.7 L288.7,200.7 L290.1,200.7 L291.6,200.7 L293.0,200.7 L294.4,200.7 L295.9,200.7 L297.3,200.7 L298.7,200.7 L300.1,200.7 L301.6,200.7 L303.0,200.7 L304.4,200.7 L305.9,200.7 L307.3,200.7 L308.7,200.7 L310.1,200.7 L311.6,200.7 L313.0,200.7 L314.4,200.7 L315.8,200.7 L317.3,200.7 L318.7,200.7 L320.1,200.7 L321.6,200.7 L323.0,200.7 L324.4,200.7 L325.8,200.7 L327.3,200.7 L328.7,200.7 L330.1,200.7 L331.6,200.7 L333.0,200.7 L334.4,200.7 L335.8,200.7 L337.3,200.7 L338.7,200.7" stroke="#0083CC" stroke-width="1.5" fill="none" stroke-linejoin="round"/>
<path d="M60.8,191.7 L61.7,192.9 L62.8,193.6 L63.9,194.0 L65.2,194.4 L66.6,194.7 L68.0,194.9 L69.4,195.1 L70.9,195.3 L72.4,195.5 L73.8,195.7 L75.2,195.8 L76.6,196.0 L78.0,196.1 L79.4,196.2 L80.8,196.4 L82.2,196.5 L83.6,196.6 L85.0,196.7 L86.4,196.8 L87.8,196.9 L89.2,197.1 L90.6,197.2 L92.0,197.3 L93.4,197.5 L94.8,197.6 L96.2,197.8 L97.6,198.0 L99.0,198.2 L100.4,198.4 L101.8,198.6 L103.1,198.8 L104.5,199.1 L105.9,199.3 L107.3,199.5 L108.7,199.8 L110.1,200.0 L111.5,200.2 L112.8,200.4 L114.2,200.6 L115.6,200.7 L117.0,200.7 L118.4,200.7 L119.8,200.7 L121.2,200.7 L122.6,200.7 L124.0,200.7 L125.4,200.7 L126.8,200.7 L128.2,200.7 L129.6,200.7 L131.0,200.7 L132.4,200.7 L133.8,200.7 L135.2,200.7 L136.6,200.7 L138.0,200.7 L139.4,200.7 L140.8,200.7 L142.2,200.7 L143.6,200.7 L145.0,200.7 L146.4,200.7 L147.8,200.7 L149.2,200.7 L150.6,200.7 L152.0,200.7 L153.4,200.7 L154.8,200.7 L156.2,200.7 L157.6,200.7 L158.9,200.7 L160.3,200.7 L161.7,200.7 L163.1,200.7 L164.5,200.7 L165.9,200.7 L167.3,200.7 L168.7,200.7 L170.1,200.7 L171.5,200.7 L172.9,200.7 L174.3,200.7 L175.7,200.7 L177.1,200.7 L178.5,200.7 L179.9,200.7 L181.3,200.7 L182.7,200.7 L184.1,200.7 L185.5,200.7 L186.9,200.7 L188.3,200.7 L189.7,200.7 L191.1,200.7 L192.5,200.7 L193.9,200.7 L195.3,200.7 L196.7,200.7 L198.1,200.7 L199.5,200.7 L200.9,200.7 L202.3,200.7 L203.7,200.7 L205.1,200.7 L206.5,200.7 L207.9,200.7 L209.3,200.7 L210.7,200.7 L212.1,200.7 L213.5,200.7 L214.9,200.7 L216.3,200.7 L217.7,200.7 L219.1,200.7 L220.5,200.7 L221.9,200.7 L223.3,200.7 L224.7,200.7 L226.1,200.7 L227.6,200.7 L229.0,200.7 L230.4,200.7 L231.8,200.7 L233.2,200.7 L234.6,200.7 L236.0,200.7 L237.4,200.7 L238.8,200.7 L240.2,200.7 L241.6,200.7 L243.0,200.7 L244.4,200.7 L245.8,200.7 L247.2,200.7 L248.6,200.7 L250.0,200.7 L251.4,200.7 L252.8,200.7 L254.2,200.7 L255.6,200.7 L257.0,200.7 L258.4,200.7 L259.8,200.7 L261.2,200.7 L262.6,200.7 L264.0,200.7 L265.4,200.7 L266.9,200.7 L268.3,200.7 L269.7,200.7 L271.1,200.7 L272.5,200.7 L273.9,200.7 L275.3,200.7 L276.7,200.7 L278.1,200.7 L279.5,200.7 L280.9,200.7 L282.3,200.7 L283.7,200.7 L285.1,200.7 L286.5,200.7 L287.9,200.7 L289.4,200.7 L290.8,200.7 L292.2,200.7 L293.6,200.7 L295.0,200.7 L296.4,200.7 L297.8,200.7 L299.2,200.7 L300.6,200.7 L302.0,200.7 L303.4,200.7 L304.8,200.7 L306.3,200.7 L307.7,200.7 L309.1,200.7 L310.5,200.7 L311.9,200.7 L313.3,200.7 L314.7,200.7 L316.1,200.7 L317.5,200.7 L318.9,200.7 L320.4,200.7 L321.8,200.7 L323.2,200.7 L324.6,200.7 L326.0,200.7 L327.4,200.7 L328.8,200.7 L330.2,200.7 L331.6,200.7 L333.1,200.7 L334.5,200.7 L335.9,200.7 L337.3,200.7 L338.7,200.7" stroke="#99C000" stroke-width="1.5" fill="none" stroke-linejoin="round"/>
<path d="M225.5,37.9 L224.2,39.4 L222.9,40.9 L221.6,42.4 L220.3,43.9 L218.9,45.4 L217.6,46.9 L216.3,48.4 L215.0,49.9 L213.6,51.4 L212.3,52.9 L211.0,54.3 L209.6,55.8 L208.3,57.3 L207.0,58.8 L205.6,60.2 L204.3,61.7 L202.9,63.2 L201.6,64.6 L200.2,66.1 L198.8,67.6 L197.5,69.0 L196.1,70.5 L194.7,71.9 L193.4,73.4 L192.0,74.8 L190.6,76.3 L189.2,77.7 L187.9,79.1 L186.5,80.6 L185.1,82.0 L183.7,83.4 L182.3,84.9 L180.9,86.3 L179.5,87.7 L178.1,89.1 L176.7,90.6 L175.3,92.0 L173.9,93.4 L172.5,94.8 L171.1,96.2 L169.7,97.6 L168.3,99.0 L166.9,100.4 L165.5,101.8 L164.0,103.2 L162.6,104.6 L161.2,106.0 L159.8,107.4 L158.3,108.8 L156.9,110.2 L155.5,111.6 L154.0,113.0 L152.6,114.3 L151.1,115.7 L149.7,117.1 L148.2,118.5 L146.8,119.8 L145.3,121.2 L143.9,122.6 L142.4,123.9 L141.0,125.3 L139.5,126.7 L138.1,128.0 L136.6,129.4 L135.1,130.7 L133.7,132.1 L132.2,133.4 L130.7,134.8 L129.3,136.1 L127.8,137.5 L126.3,138.8 L124.8,140.1 L123.3,141.5 L121.9,142.8 L120.4,144.1 L118.9,145.5 L117.4,146.8 L115.9,148.1 L114.4,149.5 L112.9,150.8 L111.4,152.1 L109.9,153.4 L108.4,154.7 L106.9,156.0 L105.4,157.3 L103.9,158.7 L102.4,160.0 L100.9,161.3 L99.4,162.6 L97.9,163.9 L96.4,165.2 L94.8,166.5 L93.3,167.8 L91.8,169.0 L90.3,170.3 L88.8,171.6 L87.2,172.9 L85.7,174.2 L84.2,175.5 L82.6,176.8 L81.1,178.0 L79.6,179.3 L78.1,180.6 L76.5,181.9 L75.0,183.1 L73.4,184.4 L71.9,185.7 L70.4,186.9 L68.8,188.2 L67.3,189.4 L65.7,190.7 L64.2,192.0 L62.6,193.2 L61.1,194.5 L59.5,195.7 L58.0,197.0 L56.4,198.2 L54.9,199.5 L53.3,200.7" stroke="#000" stroke-width="1.5" stroke-dasharray="1.5 2.9" fill="none"/>
<path d="M57.8,193.2h9.4M62.5,188.5v9.4M68.3,184.5h9.4M73.0,179.8v9.4M80.3,174.7h9.4M85.0,170.0v9.4M93.3,164.3h9.4M98.0,159.6v9.4M107.0,152.0h9.4M111.7,147.3v9.4M121.0,139.7h9.4M125.7,135.0v9.4M136.0,125.0h9.4M140.7,120.3v9.4M152.3,109.5h9.4M157.0,104.8v9.4" stroke="#000" stroke-width="1.4" fill="none"/>
<text class="tk" x="47.3" y="206.1" text-anchor="end">0</text><text class="tk" x="47.3" y="173.6" text-anchor="end">2</text><text class="tk" x="47.3" y="141.0" text-anchor="end">4</text><text class="tk" x="47.3" y="108.5" text-anchor="end">6</text><text class="tk" x="47.3" y="75.9" text-anchor="end">8</text><text class="tk" x="47.3" y="43.4" text-anchor="end">10</text><text class="tk" x="47.3" y="10.9" text-anchor="end">12</text>
<text class="tk" x="53.4" y="218.3" text-anchor="middle">0</text><text class="tk" x="89.0" y="218.3" text-anchor="middle">1</text><text class="tk" x="124.7" y="218.3" text-anchor="middle">2</text><text class="tk" x="160.3" y="218.3" text-anchor="middle">3</text><text class="tk" x="196.0" y="218.3" text-anchor="middle">4</text><text class="tk" x="231.7" y="218.3" text-anchor="middle">5</text><text class="tk" x="267.3" y="218.3" text-anchor="middle">6</text><text class="tk" x="302.9" y="218.3" text-anchor="middle">7</text><text class="tk" x="338.6" y="218.3" text-anchor="middle">8</text>
<text class="lb" x="196.4" y="244.4" text-anchor="middle">B [T]</text>
<g transform="translate(14.6,129.4) rotate(-90)"><text class="lb" x="0" y="0">I</text><text class="lb" style="font-size:13.5px" x="7.0" y="2.7">c</text><text class="lb" x="20.9" y="0" textLength="31.2" lengthAdjust="spacingAndGlyphs">[kA]</text></g>
<line x1="235.4" y1="13.7" x2="262" y2="13.7" stroke="#005AA9" stroke-width="1.5"/><text class="lg" x="266.2" y="17.1" textLength="25.4" lengthAdjust="spacingAndGlyphs">10 K</text>
<line x1="235.4" y1="28.0" x2="262" y2="28.0" stroke="#009D81" stroke-width="1.5"/><text class="lg" x="266.2" y="31.4" textLength="25.4" lengthAdjust="spacingAndGlyphs">20 K</text>
<line x1="235.4" y1="42.4" x2="262" y2="42.4" stroke="#C9D400" stroke-width="1.5"/><text class="lg" x="266.2" y="45.8" textLength="25.4" lengthAdjust="spacingAndGlyphs">30 K</text>
<line x1="235.4" y1="56.7" x2="262" y2="56.7" stroke="#F5A300" stroke-width="1.5"/><text class="lg" x="266.2" y="60.1" textLength="25.4" lengthAdjust="spacingAndGlyphs">40 K</text>
<line x1="235.4" y1="71.0" x2="262" y2="71.0" stroke="#E6001A" stroke-width="1.5"/><text class="lg" x="266.2" y="74.4" textLength="25.4" lengthAdjust="spacingAndGlyphs">50 K</text>
<line x1="235.4" y1="85.4" x2="262" y2="85.4" stroke="#721085" stroke-width="1.5"/><text class="lg" x="266.2" y="88.8" textLength="25.4" lengthAdjust="spacingAndGlyphs">60 K</text>
<line x1="235.4" y1="99.7" x2="262" y2="99.7" stroke="#0083CC" stroke-width="1.5"/><text class="lg" x="266.2" y="103.1" textLength="25.4" lengthAdjust="spacingAndGlyphs">70 K</text>
<line x1="235.4" y1="114.0" x2="262" y2="114.0" stroke="#99C000" stroke-width="1.5"/><text class="lg" x="266.2" y="117.4" textLength="25.4" lengthAdjust="spacingAndGlyphs">80 K</text>
<line x1="235.2" y1="128.3" x2="263" y2="128.3" stroke="#000" stroke-width="1.4" stroke-dasharray="1.4 2.26"/><text class="lg" x="266.6" y="131.7">B<tspan font-size="9.5px" dy="2.5">p</tspan></text>
<path d="M244.2,142.7h9.4M248.9,138.0v9.4" stroke="#000" stroke-width="1.4" fill="none"/><text class="lg" x="266.6" y="146.1" textLength="65.2" lengthAdjust="spacingAndGlyphs">intersection</text>
</svg>
</body></html>
